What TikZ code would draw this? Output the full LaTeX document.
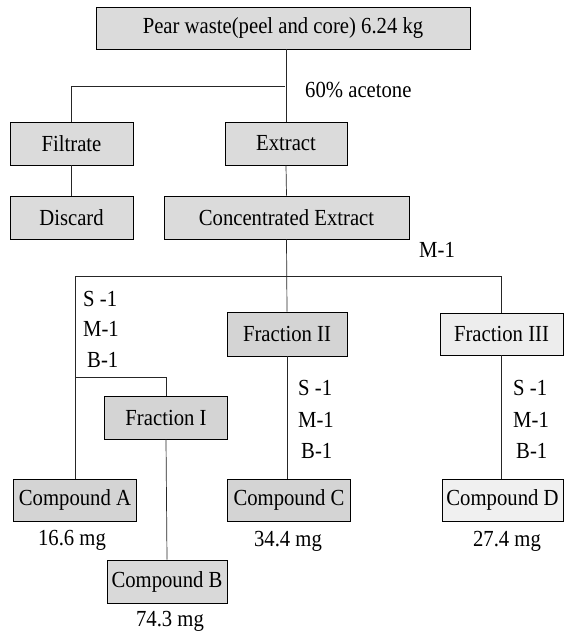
\documentclass[tikz,border=0pt]{standalone}
\usepackage{fontspec}
\setmainfont{Liberation Serif}[FakeStretch=0.9]
\begin{document}
\begin{tikzpicture}[x=1pt,y=-1pt,
  box/.style={draw=black, line width=0.9pt, fill=#1, inner sep=0pt, font=\fontsize{23}{26}\selectfont},
  box/.default={gray!28},
  lbl/.style={inner sep=0pt, font=\fontsize{23}{26}\selectfont},
  conn/.style={line width=0.7pt, draw=black!85}]
\useasboundingbox (0,0) rectangle (564,634);
\fill[white] (0,0) rectangle (564,634);
% boxes
\node[box, minimum width=374pt, minimum height=42pt] (top) at (283,28) {Pear waste(peel and core) 6.24 kg};
\node[box, minimum width=123pt, minimum height=43pt] (filtrate) at (71.5,143.5) {Filtrate};
\node[box, minimum width=122pt, minimum height=43pt] (extract) at (286,143.5) {Extract};
\node[box, minimum width=123pt, minimum height=43pt] (discard) at (71.5,217.5) {Discard};
\node[box, minimum width=245pt, minimum height=43pt] (conc) at (286.5,217.5) {Concentrated Extract};
\node[box=gray!34, minimum width=120pt, minimum height=44pt] (frac2) at (287,334) {Fraction II};
\node[box=gray!14, minimum width=123pt, minimum height=42pt] (frac3) at (501.5,334) {Fraction III};
\node[box=gray!34, minimum width=123pt, minimum height=43pt] (frac1) at (166,417.5) {Fraction I};
\node[box=gray!34, minimum width=123pt, minimum height=42pt] (compA) at (75,500) {Compound A};
\node[box=gray!34, minimum width=123pt, minimum height=42pt] (compC) at (289,500) {Compound C};
\node[box=gray!12, minimum width=121pt, minimum height=42pt] (compD) at (502.5,500) {Compound D};
\node[box=gray!30, minimum width=120pt, minimum height=43pt] (compB) at (167,581.5) {Compound B};
% junctions
\coordinate (j1) at (285,86);
\coordinate (j2) at (287,276);
\coordinate (j3) at (166,377);
% connectors
\draw[conn] (extract.north |- top.south) -- (extract.north);
\draw[conn] (j1) -| (filtrate.north);
\draw[conn] (filtrate.south) -- (discard.north);
\draw[conn] (extract.south) -- (conc.north);
\draw[conn] (conc.south) -- (frac2.north);
\draw[conn] (compA.north |- j2) -- (frac3.north |- j2) -- (frac3.north);
\draw[conn] (compA.north |- j2) -- (compA.north);
\draw[conn] (compA.north |- j3) -| (frac1.north);
\draw[conn] (frac1.south) -- (compB.north);
\draw[conn] (frac2.south) -- (frac2.south |- compC.north);
\draw[conn] (frac3.south) -- (frac3.south |- compD.north);
% labels
\node[lbl, anchor=west] (acetone) at (305,90) {60\% acetone};
\node[lbl, anchor=west] (m1) at (419,250) {M-1};
\node[lbl, anchor=west] (ls) at (83,299) {S -1};
\node[lbl, anchor=west] (lm) at (83,329) {M-1};
\node[lbl, anchor=west] (lb) at (87,360) {B-1};
\node[lbl, anchor=west] (cs) at (298,388) {S -1};
\node[lbl, anchor=west] (cm) at (298,420) {M-1};
\node[lbl, anchor=west] (cb) at (301,451) {B-1};
\node[lbl, anchor=west] (ds) at (513,388) {S -1};
\node[lbl, anchor=west] (dm) at (513,420) {M-1};
\node[lbl, anchor=west] (db) at (516,451) {B-1};
\node[lbl] (ma) at (72,540) {16.6 mg};
\node[lbl] (mc) at (288,541) {34.4 mg};
\node[lbl] (md) at (507,541) {27.4 mg};
\node[lbl] (mb) at (170,621) {74.3 mg};
\end{tikzpicture}
\end{document}
